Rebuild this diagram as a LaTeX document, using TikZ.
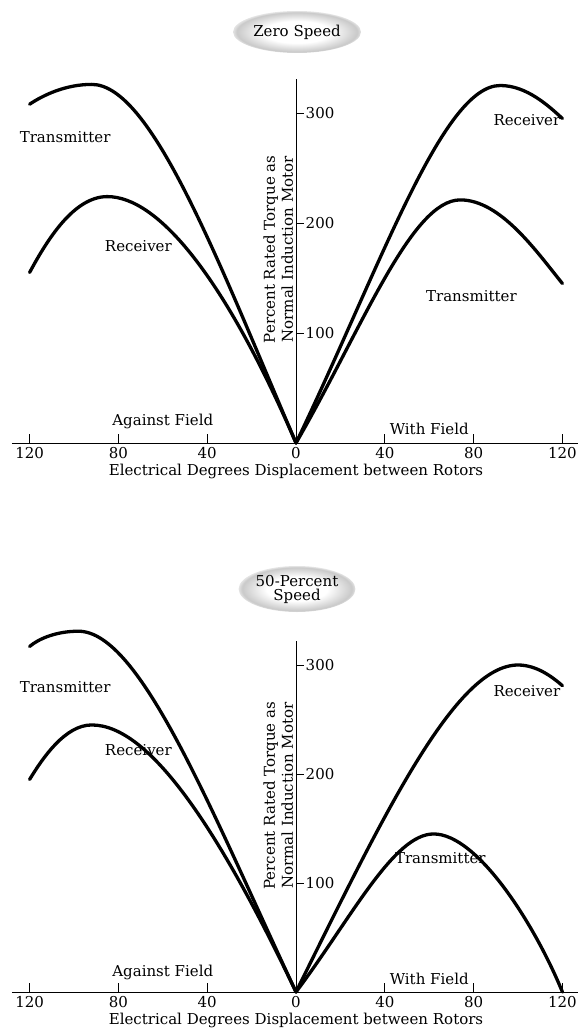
\documentclass[tikz,border=0pt]{standalone}
\usepackage{fontspec}
\setmainfont{DejaVu Serif}
\usetikzlibrary{shapes.geometric}
\pgfdeclareradialshading{badgering}{\pgfpoint{0bp}{0bp}}{color(0bp)=(white); color(13bp)=(white); color(20bp)=(gray!28); color(23.5bp)=(gray!42); color(25bp)=(gray!22); color(50bp)=(gray!22)}

\begin{document}
\begin{tikzpicture}[x=1pt,y=1pt,
    curve/.style={line width=3.3pt,line cap=round,line join=round},
    txt/.style={font=\fontsize{15}{18}\selectfont},
    badge/.style={ellipse,shading=badgering,minimum width=128pt,minimum height=42pt,
      inner sep=0pt,align=center,font=\fontsize{15}{14}\selectfont}]
    \useasboundingbox (0,0) rectangle (578,-1030);

    % zero speed
    \node[badge] (zerotitle) at (297,-32) {Zero Speed};
    \begin{scope}[shift={(296,-443)},x=2.22pt,y=1.1pt]
        \coordinate (O1) at (0,0);
        \draw[thick] (-128,0) -- (127,0);
        \draw[thick] (O1) -- (0,331);
        \foreach \d in {40,80,120} {
            \draw[thick] (\d,0) -- ++(0,9pt);
            \draw[thick] (-\d,0) -- ++(0,9pt);
            \node[txt,below=1pt] at (\d,0) {\d};
            \node[txt,below=1pt] at (-\d,0) {\d};
        }
        \node[txt,below=1pt] at (O1) {0};
        \foreach \t in {100,200,300}
            \draw[thick] (0,\t) -- ++(8pt,0) node[txt,right=-2pt] {\t};
        \node[txt,rotate=90,align=center] (ylab1) at (-8,176)
            {Percent Rated Torque as\\Normal Induction Motor};
        \node[txt] (against1) at (-60,20) {Against Field};
        \node[txt] (with1) at (60,13) {With Field};
        \node[txt] (xlab1) at (0,-26) {Electrical Degrees Displacement between Rotors};
        \draw[curve] (O1) .. controls (-35,165) and (-65,326) .. (-92,326) .. controls (-104,326) and (-114,316) .. (-120,308);
        \draw[curve] (O1) .. controls (-32,150) and (-62,224) .. (-85,224) .. controls (-100,224) and (-112,185) .. (-120,155);
        \draw[curve] (O1) .. controls (38,160) and (66,325) .. (92,325) .. controls (104,325) and (114,306) .. (120,295);
        \draw[curve] (O1) .. controls (30,105) and (52,221) .. (74,221) .. controls (92,221) and (108,175) .. (120,145);
        \node[txt] (trans1l) at (-104,278) {Transmitter};
        \node[txt] (recv1l) at (-71,179) {Receiver};
        \node[txt] (recv1r) at (104,294) {Receiver};
        \node[txt] (trans1r) at (79,134) {Transmitter};
    \end{scope}

    % 50 percent speed
    \node[badge,minimum width=112pt,minimum height=46pt] (halftitle) at (297,-589) {50-Percent\\Speed};
    \begin{scope}[shift={(296,-992)},x=2.22pt,y=1.09pt]
        \coordinate (O2) at (0,0);
        \draw[thick] (-128,0) -- (127,0);
        \draw[thick] (O2) -- (0,322);
        \foreach \d in {40,80,120} {
            \draw[thick] (\d,0) -- ++(0,9pt);
            \draw[thick] (-\d,0) -- ++(0,9pt);
            \node[txt,below=1pt] at (\d,0) {\d};
            \node[txt,below=1pt] at (-\d,0) {\d};
        }
        \node[txt,below=1pt] at (O2) {0};
        \foreach \t in {100,200,300}
            \draw[thick] (0,\t) -- ++(8pt,0) node[txt,right=-2pt] {\t};
        \node[txt,rotate=90,align=center] (ylab2) at (-8,180)
            {Percent Rated Torque as\\Normal Induction Motor};
        \node[txt] (against2) at (-60,18) {Against Field};
        \node[txt] (with2) at (60,12) {With Field};
        \node[txt] (xlab2) at (0,-26) {Electrical Degrees Displacement between Rotors};
        \draw[curve] (O2) .. controls (-38,165) and (-70,331) .. (-98,331) .. controls (-108,331) and (-116,324) .. (-120,317);
        \draw[curve] (O2) .. controls (-35,150) and (-66,245) .. (-92,245) .. controls (-104,245) and (-114,215) .. (-120,195);
        \draw[curve] (O2) .. controls (40,165) and (72,300) .. (100,300) .. controls (108,300) and (115,290) .. (120,281);
        \draw[curve] (O2) .. controls (25,68) and (44,145) .. (62,145) .. controls (82,145) and (108,60) .. (120,0);
        \node[txt] (trans2l) at (-104,280) {Transmitter};
        \node[txt] (recv2l) at (-71,222) {Receiver};
        \node[txt] (recv2r) at (104,276) {Receiver};
        \node[txt] (trans2r) at (65,123) {Transmitter};
    \end{scope}
\end{tikzpicture}
\end{document}
